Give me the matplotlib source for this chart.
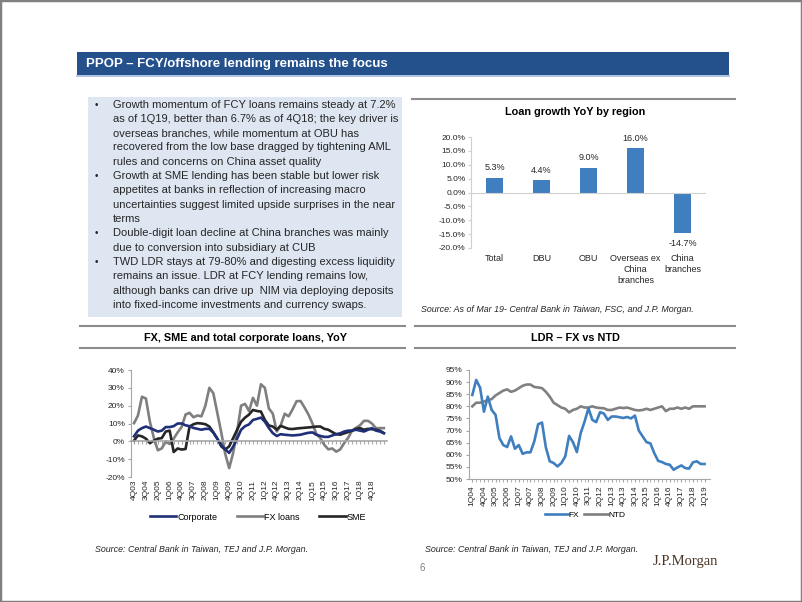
import numpy as np
import matplotlib
matplotlib.use('Agg')
import matplotlib.pyplot as plt
from matplotlib.patches import Rectangle
from matplotlib.lines import Line2D

plt.rcParams['font.family'] = ['Liberation Sans', 'DejaVu Sans']

# ---- data ----
region_names = ['Total', 'DBU', 'OBU', 'Overseas ex\nChina\nbranches', 'China\nbranches']
region_growth = [5.3, 4.4, 9.0, 16.0, -14.7]

yoy_ticks = ['4Q03', '3Q04', '2Q05', '1Q06', '4Q06', '3Q07', '2Q08', '1Q09', '4Q09', '3Q10', '2Q11',
             '1Q12', '4Q12', '3Q13', '2Q14', '1Q15', '4Q15', '3Q16', '2Q17', '1Q18', '4Q18']
corp_yoy = [2.8, 6, 7.4, 8.3, 7.4, 6.5, 5.5, 6, 8, 8, 8.5, 10, 10, 9, 8.5, 7.5, 7, 6.5, 7, 7,
            5, 1.5, -2, -4.5, -6.5, -3, 1.5, 6.5, 8.5, 9.5, 12, 12.6, 13.3, 11, 7.5, 4.6, 3, 4, 3.7, 3.5,
            3.3, 3.5, 3.7, 4.3, 4.8, 5, 3.7, 3, 2.5, 2.5, 3.3, 4, 4.5, 5.5, 6, 6, 6.5, 6, 5.5, 6.5,
            7.4, 6, 5.5, 4.6]
fx_yoy = [10.2, 14.5, 25, 24, 11, 2, -5, -4, 0, -1.5, 1.5, 5, 8, 15, 16, 13.5, 14.5, 14, 20, 30,
          27, 16, 5, -7, -15, -6.5, 5.5, 20, 21, 17, 24.4, 20, 32, 30, 18.5, 15.5, 5.5, 9, 15.5, 14,
          18, 22.5, 22.6, 19, 15, 10, 4, 1.8, -2, -4.5, -4, -5.8, -4.5, -1, 2, 6, 7.6, 9, 11.5, 11.5,
          10, 7.4, 7.4, 7.4]
sme_yoy = [0.4, 3.3, 2.8, 1.5, -1, 0.4, 1.5, 1.8, 5.5, 6, -6, -4, -4.6, -4.3, 8.3, 9.6, 10.2, 10, 9.6, 8.3,
           5, 1.5, -2.8, -4.6, -2.8, 1.8, 6.5, 11, 13.3, 15, 17.6, 17, 16.7, 12, 8.9, 8.3, 6.5, 8.7, 7.8, 7,
           6.9, 7.2, 7.4, 7.6, 7.8, 8, 8.3, 8.3, 7, 6.5, 5.2, 4, 3.7, 4.5, 5.2, 6, 7, 7.4, 6.5, 7,
           6.8, 6.5, 6, 4.6]

ldr_ticks = ['1Q04', '4Q04', '3Q05', '2Q06', '1Q07', '4Q07', '3Q08', '2Q09', '1Q10', '4Q10', '3Q11',
             '2Q12', '1Q13', '4Q13', '3Q14', '2Q15', '1Q16', '4Q16', '3Q17', '2Q18', '1Q19']
ldr_fx = [84.7, 90.9, 87.7, 77.8, 84, 78.5, 76.5, 66.9, 64, 63.2, 67.6, 62.5, 64, 60.4, 61, 61,
          65.5, 72.6, 73.3, 63, 57.3, 56.6, 55.2, 56.6, 59.3, 67.8, 65.2, 61.1, 69, 73.7, 79.2,
          74.4, 73.5, 77.6, 77, 74.4, 75.8, 75.8, 75.5, 75.2, 75.6, 75, 76.2, 70, 67.6, 65.2,
          64.7, 60.7, 57.5, 57, 56.2, 55.9, 53.8, 54.8, 55.6, 54.5, 54.3, 56.9, 57.3, 56.2, 56.2]
ldr_ntd = [80, 81.5, 81.5, 82, 82.5, 83, 84.5, 85.5, 86.5, 87, 86, 86.5, 87.5, 88.5, 89, 89,
           88, 87.8, 87.5, 86, 84, 81.5, 80.5, 79.5, 79, 77.5, 78.5, 79, 80, 79.5, 79.5,
           80, 79.5, 79.3, 79.2, 78.5, 78.5, 79, 79.5, 79.3, 79.5, 79, 78.5, 78.3, 78.5, 79,
           78.5, 79, 79.5, 80, 78, 79, 79, 79.5, 79, 79.5, 79, 80, 80, 80, 80]

bullets = [
    ['Growth momentum of FCY loans remains steady at 7.2%',
     'as of 1Q19, better than 6.7% as of 4Q18; the key driver is',
     'overseas branches, while momentum at OBU has',
     'recovered from the low base dragged by tightening AML',
     'rules and concerns on China asset quality'],
    ['Growth at SME lending has been stable but lower risk',
     'appetites at banks in reflection of increasing macro',
     'uncertainties suggest limited upside surprises in the near',
     'terms'],
    ['Double-digit loan decline at China branches was mainly',
     'due to conversion into subsidiary at CUB'],
    ['TWD LDR stays at 79-80% and digesting excess liquidity',
     'remains an issue. LDR at FCY lending remains low,',
     'although banks can drive up  NIM via deploying deposits',
     'into fixed-income investments and currency swaps.'],
]

W, H = 802, 602
BLUE = '#3F7FBF'
GRID = '#A6A6A6'
TXT = '#262626'


def box(x0, y0, x1, y1):
    return [x0 / W, 1 - y1 / H, (x1 - x0) / W, (y1 - y0) / H]


def fx(x):
    return x / W


def fy(y):
    return 1 - y / H


fig = plt.figure(figsize=(W / 100, H / 100), dpi=100)
fig.patches.append(Rectangle((0, 0), 1, 1, transform=fig.transFigure, fill=False,
                             edgecolor='#808080', lw=2.5))

# banner
fig.patches.append(Rectangle((fx(77), fy(75)), fx(729) - fx(77), fy(52) - fy(75),
                             transform=fig.transFigure, facecolor='#24508C', edgecolor='none'))
fig.add_artist(Line2D([fx(77), fx(729)], [fy(75.5), fy(75.5)], color='#9DB9DD', lw=1.2))
fig.text(fx(86), fy(63.5), 'PPOP – FCY/offshore lending remains the focus', color='white',
         fontsize=9.5, fontweight='bold', va='center', ha='left')

# bullet box
fig.patches.append(Rectangle((fx(88), fy(317)), fx(402) - fx(88), fy(97) - fy(317),
                             transform=fig.transFigure, facecolor='#DDE6F1', edgecolor='none'))
k = 0
for lines in bullets:
    fig.text(fx(95), fy(104.5 + 14.32 * k), '•', fontsize=7, color=TXT, va='center')
    for line in lines:
        fig.text(fx(113), fy(104.5 + 14.32 * k), line, fontsize=8.05, color=TXT, va='center')
        k += 1


# section lines and titles
def hline(x0, x1, y, lw=1.5, color='#8C8C8C'):
    fig.add_artist(Line2D([fx(x0), fx(x1)], [fy(y), fy(y)], color=color, lw=lw))


hline(412, 735, 99)
fig.text(fx(575), fy(112), 'Loan growth YoY by region', fontsize=7.8, fontweight='bold',
         ha='center', va='center', color='black')
hline(80, 405, 326)
hline(415, 735, 326)
hline(80, 405, 348)
hline(415, 735, 348)
fig.text(fx(245), fy(338), 'FX, SME and total corporate loans, YoY', fontsize=7.8,
         fontweight='bold', ha='center', va='center', color='black')
fig.text(fx(575), fy(338), 'LDR – FX vs NTD', fontsize=7.8, fontweight='bold',
         ha='center', va='center', color='black')

# ---- bar chart ----
ax1 = fig.add_axes(box(471, 137, 706, 248))
xb = np.arange(len(region_names))
ax1.bar(xb, region_growth, width=0.36, color=BLUE)
for xi, v in zip(xb, region_growth):
    ax1.annotate(f'{v:.1f}%', (xi, v), xytext=(0, 4 if v > 0 else -4), textcoords='offset points',
                 ha='center', va='bottom' if v > 0 else 'top', fontsize=6.5, color=TXT)
ax1.set_xlim(-0.5, 4.5)
ax1.set_ylim(-20, 20)
ax1.set_yticks(np.arange(-20, 21, 5))
ax1.set_yticklabels([f'{t:.1f}%' for t in np.arange(-20, 21, 5)])
ax1.set_xticks(xb)
ax1.set_xticklabels(region_names, linespacing=1.3)
ax1.tick_params(axis='x', length=0, pad=4, labelsize=6.5, labelcolor=TXT)
ax1.tick_params(axis='y', length=2, labelsize=6, labelcolor=TXT, color='#D0D0D0', pad=2)
for s in ['top', 'right', 'bottom']:
    ax1.spines[s].set_visible(False)
ax1.spines['left'].set_color('#D0D0D0')
ax1.axhline(0, color='#D0D0D0', lw=0.8)
fig.text(fx(421), fy(310), 'Source: As of Mar 19- Central Bank in Taiwan, FSC, and J.P. Morgan.',
         fontsize=6.4, style='italic', color=TXT, va='center')

# ---- FX, SME, corporate ----
ax2 = fig.add_axes(box(131, 370, 387, 477))
q = np.arange(len(corp_yoy))
ax2.plot(q, fx_yoy, color='#7F7F7F', lw=1.9)
ax2.plot(q, sme_yoy, color='#262626', lw=1.9)
ax2.plot(q, corp_yoy, color='#1F2F78', lw=1.9)
ax2.set_xlim(-0.76, 63.8)
ax2.set_ylim(-20, 40)
ax2.set_yticks(range(-20, 41, 10))
ax2.set_yticklabels([f'{t}%' for t in range(-20, 41, 10)])
ax2.spines['bottom'].set_position(('data', 0))
ax2.spines['bottom'].set_color(GRID)
ax2.spines['bottom'].set_linewidth(1.2)
ax2.spines['left'].set_color(GRID)
for s in ['top', 'right']:
    ax2.spines[s].set_visible(False)
ax2.set_xticks(q)
ax2.tick_params(axis='x', length=2.5, color=GRID, labelbottom=False)
ax2.tick_params(axis='y', length=2.5, color=GRID, labelsize=6, labelcolor=TXT, pad=2)
sec2 = ax2.secondary_xaxis(0)
sec2.set_xticks(np.arange(0, len(q), 3)[:len(yoy_ticks)])
sec2.set_xticklabels(yoy_ticks, rotation=90)
sec2.tick_params(length=0, labelsize=6, labelcolor=TXT, pad=2)
sec2.spines['bottom'].set_visible(False)
h2 = [Line2D([], [], color='#1F2F78', lw=1.9), Line2D([], [], color='#7F7F7F', lw=1.9),
      Line2D([], [], color='#262626', lw=1.9)]
fig.legend(h2, ['Corporate', 'FX loans', 'SME'], loc='center', bbox_to_anchor=(fx(258), fy(517)),
           ncol=3, frameon=False, fontsize=6.5, handlelength=2.9, handletextpad=0.1,
           columnspacing=2.2)
fig.text(fx(95), fy(550), 'Source: Central Bank in Taiwan, TEJ and J.P. Morgan.',
         fontsize=6.4, style='italic', color=TXT, va='center')

# ---- LDR ----
ax3 = fig.add_axes(box(469, 370, 710, 479))
p = np.arange(len(ldr_fx))
ax3.plot(p, ldr_ntd, color='#808080', lw=1.9)
ax3.plot(p, ldr_fx, color=BLUE, lw=1.9)
ax3.set_xlim(-0.86, 61.4)
ax3.set_ylim(50, 95)
ax3.set_yticks(range(50, 96, 5))
ax3.set_yticklabels([f'{t}%' for t in range(50, 96, 5)])
ax3.set_xticks(np.arange(0, len(p), 3))
ax3.set_xticklabels(ldr_ticks, rotation=90)
ax3.set_xticks(p, minor=True)
ax3.tick_params(axis='x', which='both', length=2.5, color=GRID, labelsize=6, labelcolor=TXT, pad=2)
ax3.tick_params(axis='y', length=2.5, color=GRID, labelsize=6, labelcolor=TXT, pad=2)
for s in ['top', 'right']:
    ax3.spines[s].set_visible(False)
ax3.spines['left'].set_color(GRID)
ax3.spines['bottom'].set_color(GRID)
h3 = [Line2D([], [], color=BLUE, lw=1.9), Line2D([], [], color='#808080', lw=1.9)]
fig.legend(h3, ['FX', 'NTD'], loc='center', bbox_to_anchor=(fx(585), fy(515)),
           ncol=2, frameon=False, fontsize=6, handlelength=2.8, handletextpad=0.1,
           columnspacing=0.6)
fig.text(fx(425), fy(550), 'Source: Central Bank in Taiwan, TEJ and J.P. Morgan.',
         fontsize=6.4, style='italic', color=TXT, va='center')

# footer
fig.text(fx(420), fy(568), '6', fontsize=7, color='#7F7F7F', va='center')
fig.text(fx(653), fy(562), 'J.P.Morgan', fontsize=10.5, family='Liberation Serif',
         color='#4A3526', va='center')

fig.savefig('out.png', dpi=100)
